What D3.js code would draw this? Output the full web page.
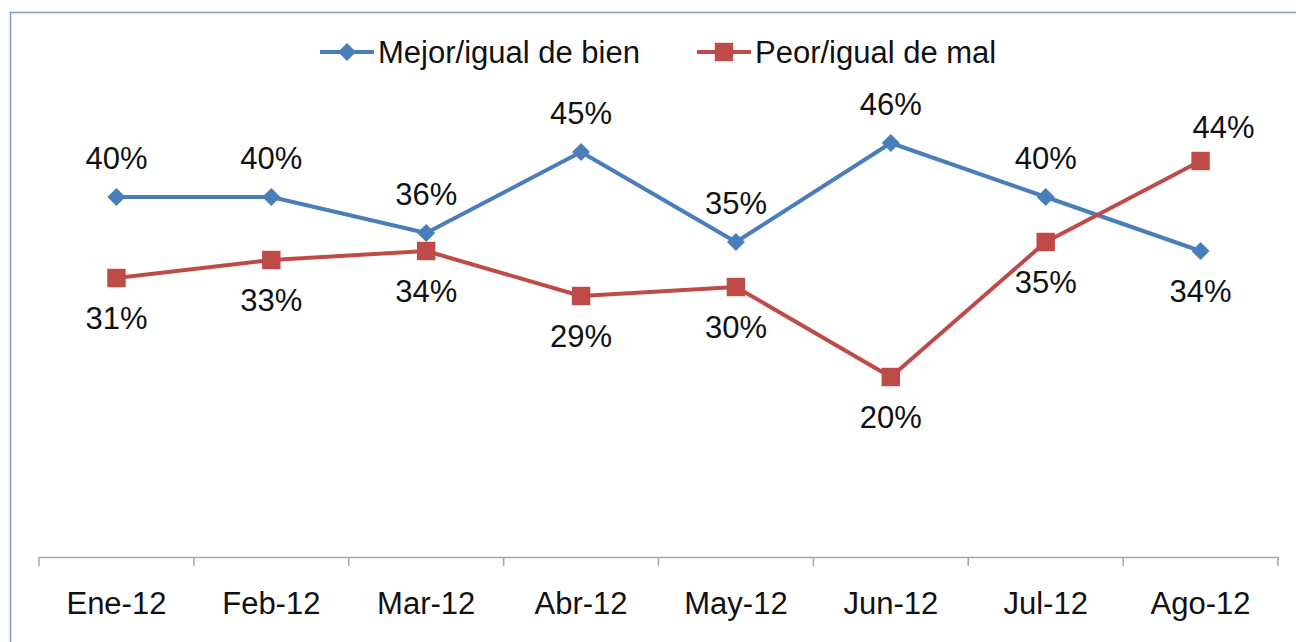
<!DOCTYPE html>
<html>
<head>
<meta charset="utf-8">
<script src="https://cdn.jsdelivr.net/npm/d3@7"></script>
<style>
  html, body { margin: 0; padding: 0; background: #fff; }
  svg { display: block; font-family: "Liberation Sans", Arial, sans-serif; }
</style>
</head>
<body>
<div id="chart"></div>
<script>
const months = ['Ene-12', 'Feb-12', 'Mar-12', 'Abr-12', 'May-12', 'Jun-12', 'Jul-12', 'Ago-12'];
const mejor = [40, 40, 36, 45, 35, 46, 40, 34];
const peor  = [31, 33, 34, 29, 30, 20, 35, 44];
const seriesNames = ['Mejor/igual de bien', 'Peor/igual de mal'];

const W = 1296, H = 642;
const FS = 31;
const svg = d3.select('#chart').append('svg')
  .attr('width', W).attr('height', H);

// frame
svg.append('rect')
  .attr('x', 10.5).attr('y', 12.5)
  .attr('width', W + 20).attr('height', H + 20)
  .attr('fill', '#fff').attr('stroke', '#7b9bd1').attr('stroke-width', 1.5);

const x = d3.scaleBand().domain(months).range([39, 1278]);
const y = d3.scaleLinear().domain([0, 50]).range([557, 107]);
const cx = d => x(d) + x.bandwidth() / 2;

// x axis
const axis = svg.append('g')
  .attr('transform', 'translate(0,557)')
  .call(d3.axisBottom(x).tickSize(0).tickPadding(0));
axis.select('.domain').attr('stroke', '#a6a6a6').attr('stroke-width', 1.5);
axis.selectAll('.tick text')
  .attr('y', 57).attr('dy', 0)
  .attr('font-size', FS).attr('fill', '#111')
  .attr('font-family', '"Liberation Sans", Arial, sans-serif');
// tick marks between categories
const bounds = months.map(m => x(m)).concat([x.range()[1]]);
axis.selectAll('.sep').data(bounds).enter().append('line')
  .attr('x1', d => d).attr('x2', d => d)
  .attr('y1', 0).attr('y2', 9)
  .attr('stroke', '#a6a6a6').attr('stroke-width', 1.5);

const diamond = { draw(ctx, size) {
  const r = Math.sqrt(size / 2);
  ctx.moveTo(0, -r); ctx.lineTo(r, 0); ctx.lineTo(0, r); ctx.lineTo(-r, 0); ctx.closePath();
} };

const series = [
  { name: seriesNames[0], values: mejor, color: '#4a7ebb', shape: diamond,        size: 162, below: [7] },
  { name: seriesNames[1], values: peor,  color: '#be4b48', shape: d3.symbolSquare, size: 340, below: [0, 1, 2, 3, 4, 5, 6] }
];

const line = d3.line().x((d, i) => cx(months[i])).y(d => y(d));

series.forEach(s => {
  svg.append('path')
    .datum(s.values)
    .attr('d', line)
    .attr('fill', 'none')
    .attr('stroke', s.color)
    .attr('stroke-width', 4)
    .attr('stroke-linejoin', 'round');

  svg.selectAll(null).data(s.values).enter().append('path')
    .attr('d', d3.symbol().type(s.shape).size(s.size))
    .attr('transform', (d, i) => `translate(${cx(months[i])},${y(d)})`)
    .attr('fill', s.color);

  svg.selectAll(null).data(s.values).enter().append('text')
    .attr('x', (d, i) => cx(months[i]) + (i === 7 && s.below.indexOf(i) < 0 ? 23 : 0))
    .attr('y', (d, i) => s.below.indexOf(i) >= 0 ? y(d) + 51
      : y(d) - (i === 7 ? 23 : 28))
    .attr('text-anchor', 'middle')
    .attr('font-size', FS)
    .attr('fill', '#111')
    .text(d => d + '%');
});

// legend
const legend = [
  { x: 320, s: series[0] },
  { x: 697, s: series[1] }
];
legend.forEach(l => {
  const g = svg.append('g').attr('transform', `translate(${l.x},52)`);
  g.append('line').attr('x1', 0).attr('x2', 54)
    .attr('stroke', l.s.color).attr('stroke-width', 4);
  g.append('path')
    .attr('d', d3.symbol().type(l.s.shape).size(l.s.size))
    .attr('transform', 'translate(27,0)')
    .attr('fill', l.s.color);
  g.append('text').attr('x', 58).attr('y', 11)
    .attr('font-size', FS).attr('fill', '#111')
    .text(l.s.name);
});
</script>
</body>
</html>
